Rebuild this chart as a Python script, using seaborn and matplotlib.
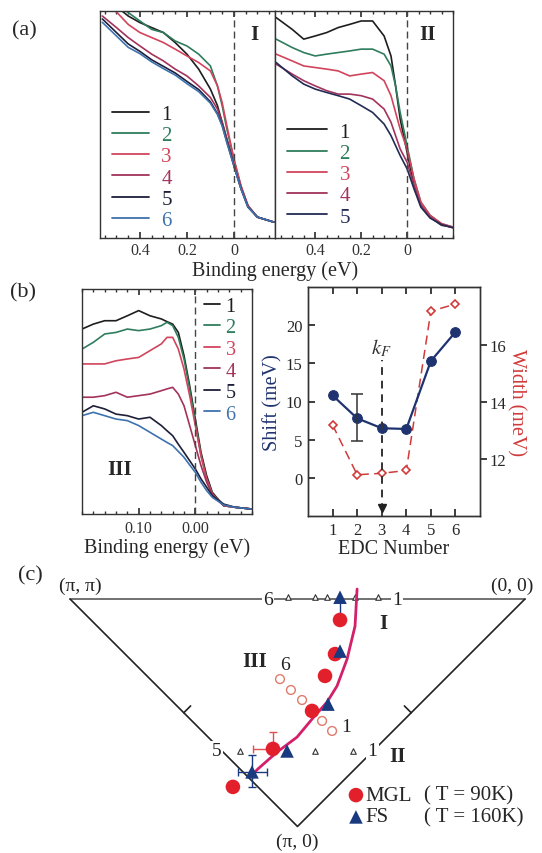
import numpy as np
import pandas as pd
import matplotlib
matplotlib.use("Agg")
import matplotlib.pyplot as plt
from matplotlib.lines import Line2D
from matplotlib.ticker import MultipleLocator, FixedLocator
import seaborn as sns

sns.set_theme(style="ticks")
plt.rcParams['font.family'] = ['Liberation Serif', 'DejaVu Serif']
plt.rcParams['mathtext.fontset'] = 'stix'

# ---------------- data: panel (a) cut I ----------------
E_I = [0.56, 0.50, 0.45, 0.40, 0.35, 0.30, 0.25, 0.20, 0.15, 0.10, 0.07, 0.05, 0.03, 0.0, -0.03, -0.06, -0.10, -0.17]
I_1 = [1.10, 1.02, 0.978, 0.949, 0.927, 0.905, 0.861, 0.810, 0.744, 0.656, 0.583, 0.510, 0.436, 0.334, 0.225, 0.140, 0.092, 0.070]
I_2 = [1.08, 1.03, 0.993, 0.956, 0.919, 0.905, 0.868, 0.846, 0.810, 0.758, 0.670, 0.583, 0.480, 0.348, 0.228, 0.142, 0.092, 0.070]
I_3 = [1.03, 0.996, 0.941, 0.905, 0.883, 0.861, 0.832, 0.802, 0.773, 0.736, 0.670, 0.597, 0.495, 0.348, 0.231, 0.143, 0.092, 0.070]
I_4 = [0.978, 0.927, 0.883, 0.846, 0.810, 0.780, 0.744, 0.714, 0.670, 0.619, 0.568, 0.510, 0.436, 0.319, 0.220, 0.138, 0.092, 0.070]
I_5 = [0.965, 0.905, 0.855, 0.822, 0.785, 0.756, 0.727, 0.690, 0.654, 0.600, 0.548, 0.497, 0.424, 0.319, 0.217, 0.136, 0.092, 0.070]
I_6 = [0.950, 0.890, 0.840, 0.812, 0.776, 0.746, 0.718, 0.680, 0.645, 0.594, 0.544, 0.494, 0.420, 0.319, 0.217, 0.136, 0.092, 0.070]

# ---------------- data: panel (a) cut II ----------------
E_II = [0.57, 0.50, 0.45, 0.40, 0.35, 0.30, 0.25, 0.20, 0.15, 0.10, 0.07, 0.05, 0.03, 0.0, -0.03, -0.06, -0.10, -0.15, -0.20]
II_1 = [0.971, 0.919, 0.876, 0.890, 0.905, 0.927, 0.941, 0.956, 0.956, 0.890, 0.802, 0.670, 0.524, 0.378, 0.231, 0.143, 0.092, 0.056, 0.048]
II_2 = [0.876, 0.839, 0.817, 0.802, 0.810, 0.817, 0.824, 0.832, 0.832, 0.810, 0.758, 0.670, 0.553, 0.407, 0.261, 0.158, 0.100, 0.063, 0.048]
II_3 = [0.810, 0.780, 0.758, 0.751, 0.744, 0.736, 0.714, 0.722, 0.729, 0.693, 0.627, 0.553, 0.480, 0.392, 0.261, 0.158, 0.100, 0.063, 0.048]
II_4 = [0.766, 0.722, 0.693, 0.670, 0.649, 0.634, 0.634, 0.627, 0.612, 0.568, 0.510, 0.451, 0.392, 0.334, 0.231, 0.143, 0.092, 0.059, 0.045]
II_5 = [0.773, 0.714, 0.678, 0.656, 0.641, 0.627, 0.612, 0.583, 0.553, 0.502, 0.451, 0.407, 0.363, 0.305, 0.217, 0.136, 0.088, 0.059, 0.045]

# ---------------- data: panel (b) cut III ----------------
E_III = [0.20, 0.18, 0.16, 0.14, 0.12, 0.10, 0.08, 0.06, 0.05, 0.04, 0.03, 0.02, 0.01, 0.0, -0.01, -0.02, -0.03, -0.05, -0.07, -0.10]
III_1 = [0.822, 0.844, 0.859, 0.859, 0.881, 0.904, 0.881, 0.867, 0.855, 0.844, 0.807, 0.704, 0.570, 0.422, 0.274, 0.170, 0.096, 0.037, 0.030, 0.022]
III_2 = [0.733, 0.763, 0.800, 0.807, 0.822, 0.815, 0.822, 0.837, 0.852, 0.837, 0.785, 0.689, 0.556, 0.407, 0.259, 0.156, 0.089, 0.037, 0.030, 0.022]
III_3 = [0.667, 0.667, 0.667, 0.681, 0.689, 0.696, 0.726, 0.756, 0.785, 0.785, 0.733, 0.644, 0.526, 0.393, 0.259, 0.156, 0.089, 0.037, 0.030, 0.022]
III_4 = [0.519, 0.519, 0.526, 0.541, 0.519, 0.526, 0.533, 0.548, 0.556, 0.563, 0.533, 0.481, 0.393, 0.304, 0.215, 0.141, 0.085, 0.037, 0.030, 0.022]
III_5 = [0.452, 0.481, 0.467, 0.444, 0.437, 0.422, 0.430, 0.393, 0.370, 0.348, 0.310, 0.274, 0.237, 0.200, 0.156, 0.119, 0.081, 0.044, 0.030, 0.022]
III_6 = [0.437, 0.452, 0.437, 0.422, 0.415, 0.393, 0.363, 0.333, 0.318, 0.304, 0.278, 0.252, 0.218, 0.185, 0.141, 0.104, 0.074, 0.040, 0.030, 0.022]

# ---------------- data: panel (b) shift / width ----------------
edc_number = [1, 2, 3, 4, 5, 6]
shift_mev = [10.8, 7.8, 6.5, 6.4, 15.3, 19.1]
width_mev = [13.2, 11.45, 11.5, 11.6, 17.2, 17.45]
shift_err_edc = 2
shift_err_lo, shift_err_hi = 3.0, 3.2
kF_edc = 3

# ---------------- data: panel (c) (rotated zone coords, units of pi) ----------------
bz_u = [0.0, 2.0, 1.0, 0.0]
bz_v = [0.0, 0.0, -1.0, 0.0]
mgl_u = [1.187, 1.165, 1.121, 1.064, 0.892, 0.716]
mgl_v = [-0.092, -0.242, -0.338, -0.492, -0.659, -0.826]
fs_u = [1.187, 1.187, 1.134, 0.954, 0.800]
fs_v = [0.008, -0.229, -0.462, -0.668, -0.760]
cutI_u = [0.958, 1.077, 1.130, 1.187, 1.253, 1.354]
cutI_v = [0.010, 0.010, 0.010, 0.010, 0.010, 0.010]
cutII_u = [0.747, 0.892, 0.954, 1.077, 1.244]
cutII_v = [-0.668, -0.668, -0.668, -0.668, -0.668]
cutIII_u = [0.923, 0.971, 1.020, 1.064, 1.108, 1.152]
cutIII_v = [-0.352, -0.400, -0.444, -0.488, -0.536, -0.580]
fsfit_u = [1.262, 1.253, 1.218, 1.174, 1.130, 1.068, 0.998, 0.910, 0.826, 0.791]
fsfit_v = [0.044, -0.119, -0.264, -0.382, -0.453, -0.523, -0.607, -0.673, -0.747, -0.782]

labels6 = ['1', '2', '3', '4', '5', '6']
colors6 = ['#1e1e1e', '#2f7d5d', '#d2445c', '#a3335c', '#1d1f38', '#3e72ae']
colors5_II = ['#1e1e1e', '#2f7d5d', '#d2445c', '#a3335c', '#222b55']

W, H = 542, 854
fig = plt.figure(figsize=(W / 100, H / 100), dpi=100)
fig.patch.set_facecolor('white')


def fa(x0, y0, x1, y1):
    return [x0 / W, 1 - y1 / H, (x1 - x0) / W, (y1 - y0) / H]


def edc_panel(ax, E, curves, colors, labels, lw=1.2):
    df = pd.DataFrame({
        'E': np.tile(E, len(curves)),
        'I': np.concatenate([np.asarray(c, float) for c in curves]),
        'edc': np.repeat(labels, len(E)),
    })
    sns.lineplot(data=df, x='E', y='I', hue='edc', hue_order=labels,
                 palette=dict(zip(labels, colors)), ax=ax, legend=False,
                 lw=lw, estimator=None)
    ax.set_xlabel('')
    ax.set_ylabel('')
    ax.set_yticks([])
    ax.set_ylim(0, 1)
    ax.axvline(0, color='#444444', lw=1.0, dashes=(5, 3))
    for s in ax.spines.values():
        s.set_color('#333333')
        s.set_linewidth(1.0)


def color_legend(ax, colors, labels, anchor, loc, fs, hl, sp, tp):
    handles = [Line2D([], [], color=c, lw=1.3) for c in colors]
    leg = ax.legend(handles, labels, loc=loc, bbox_to_anchor=anchor, frameon=False,
                    fontsize=fs, handlelength=hl, labelspacing=sp, handletextpad=tp,
                    borderpad=0, borderaxespad=0)
    for t, c in zip(leg.get_texts(), colors):
        t.set_color(c)


# ---------------- (a) I ----------------
axI = fig.add_axes(fa(100, 12, 275, 239))
edc_panel(axI, E_I, [I_1, I_2, I_3, I_4, I_5, I_6], colors6, labels6)
axI.set_xlim(0.57, -0.175)
axI.xaxis.set_major_locator(FixedLocator([0.4, 0.2, 0.0]))
axI.set_xticklabels(['0.4', '0.2', '0'])
axI.xaxis.set_minor_locator(MultipleLocator(0.05))
axI.tick_params(axis='x', which='both', direction='in', top=True, bottom=True, labelsize=11.5, pad=3, colors='#333333')
axI.tick_params(axis='x', which='major', length=4)
axI.tick_params(axis='x', which='minor', length=2.5)
axI.text(0.88, 0.9, 'I', transform=axI.transAxes, fontsize=15, fontweight='bold', ha='center', va='center')
color_legend(axI, colors6, labels6, (0.07, 0.035), 'lower left', 15, 1.75, 0.08, 0.6)

# ---------------- (a) II ----------------
axII = fig.add_axes(fa(275, 12, 453, 239))
edc_panel(axII, E_II, [II_1, II_2, II_3, II_4, II_5], colors5_II, labels6[:5])
axII.set_xlim(0.575, -0.2)
axII.xaxis.set_major_locator(FixedLocator([0.4, 0.2, 0.0]))
axII.set_xticklabels(['0.4', '0.2', '0'])
axII.xaxis.set_minor_locator(MultipleLocator(0.05))
axII.tick_params(axis='x', which='both', direction='in', top=True, bottom=True, labelsize=11.5, pad=3, colors='#333333')
axII.tick_params(axis='x', which='major', length=4)
axII.tick_params(axis='x', which='minor', length=2.5)
axII.text(0.855, 0.9, 'II', transform=axII.transAxes, fontsize=15, fontweight='bold', ha='center', va='center')
color_legend(axII, colors5_II, labels6[:5], (0.07, 0.05), 'lower left', 15, 1.9, 0.08, 0.6)

fig.text(275 / W, 1 - 271 / H, 'Binding energy (eV)', ha='center', va='center', fontsize=14.5)
fig.text(12 / W, 1 - 31 / H, '(a)', ha='left', va='center', fontsize=16)
fig.text(10 / W, 1 - 293 / H, '(b)', ha='left', va='center', fontsize=16)
fig.text(18 / W, 1 - 576 / H, '(c)', ha='left', va='center', fontsize=16)

# ---------------- (b) III ----------------
axIII = fig.add_axes(fa(82, 290, 252, 515))
edc_panel(axIII, E_III, [III_1, III_2, III_3, III_4, III_5, III_6], colors6, labels6)
axIII.set_xlim(0.2, -0.1)
axIII.xaxis.set_major_locator(FixedLocator([0.1, 0.0]))
axIII.set_xticklabels(['0.10', '0.00'])
axIII.xaxis.set_minor_locator(MultipleLocator(0.02))
axIII.tick_params(axis='x', which='both', direction='in', top=True, bottom=True, labelsize=11.5, pad=4, colors='#333333')
axIII.tick_params(axis='x', which='major', length=4)
axIII.tick_params(axis='x', which='minor', length=2.5)
axIII.set_xlabel('Binding energy (eV)', fontsize=14.5, labelpad=1)
axIII.text(0.15, 0.2, 'III', transform=axIII.transAxes, fontsize=15, fontweight='bold', ha='left', va='center')
color_legend(axIII, colors6, labels6, (0.72, 0.965), 'upper left', 14.5, 0.75, 0.12, 0.3)

# ---------------- (b) shift / width ----------------
navy = '#1f3370'
red = '#d03a3a'
axS = fig.add_axes(fa(308, 288, 480, 517))
axW = axS.twinx()
sns.lineplot(x=edc_number, y=width_mev, ax=axW, color=red, lw=1.1, dashes=(6, 3.5),
             marker='D', markersize=4.5, markerfacecolor='white', markeredgecolor=red,
             markeredgewidth=1.2)
sns.lineplot(x=edc_number, y=shift_mev, ax=axS, color=navy, lw=1.6, marker='o',
             markersize=7, markeredgecolor=navy)
i = edc_number.index(shift_err_edc)
axS.errorbar([edc_number[i]], [shift_mev[i]], yerr=[[shift_err_lo], [shift_err_hi]],
             fmt='none', ecolor='#333333', elinewidth=1.1, capsize=4, capthick=1.1)
axS.set_zorder(axW.get_zorder() + 1)
axS.patch.set_visible(False)
axS.set_xlim(0.0, 7.0)
axS.set_ylim(-5, 25)
axW.set_ylim(10, 18.05)
axS.set_xticks(edc_number)
axS.set_yticks([0, 5, 10, 15, 20])
axW.set_yticks([12, 14, 16])
axS.tick_params(axis='x', direction='in', top=True, bottom=True, labelsize=12, length=5, pad=4)
axS.tick_params(axis='y', direction='in', left=True, labelsize=12, length=5, pad=4)
axW.tick_params(axis='y', direction='out', right=True, labelsize=12, length=5, pad=2)
axS.set_xlabel('EDC Number', fontsize=14.5, labelpad=1)
axS.set_ylabel('Shift (meV)', fontsize=14.5, color=navy, labelpad=2)
axW.set_ylabel('Width (meV)', fontsize=14.5, color=red, rotation=270, labelpad=14)
for a in (axS, axW):
    for s in a.spines.values():
        s.set_color('#333333')
        s.set_linewidth(1.0)
axS.vlines(kF_edc, -4.4, 15.5, colors='#333333', linestyles=(0, (4, 3)), lw=1.4)
axS.plot([kF_edc], [-3.9], marker='v', color='#222222', ms=6)
axS.text(kF_edc, 17.1, r'$k_F$', fontsize=15, ha='center', va='center', color='#333333')

# ---------------- (c) Brillouin zone ----------------
axC = fig.add_axes([0, 4 / H, 1, 285 / H])
axC.set_xlim(-0.308, 2.075)
axC.set_ylim(-1.099, 0.154)
axC.axis('off')
axC.plot(bz_u[:2], bz_v[:2], color='#666666', lw=1.3, zorder=1)
axC.plot(bz_u[1:], bz_v[1:], color='#222222', lw=1.2, zorder=1)
# tick marks at mid-points of the diagonals
for (mu, mv, du, dv) in [(0.5, -0.5, 0.03, 0.03), (1.5, -0.5, -0.03, 0.03)]:
    axC.plot([mu, mu + du], [mv, mv + dv], color='#222222', lw=1.2)

axC.plot(fsfit_u, fsfit_v, color='#d4206a', lw=2.0, zorder=3, solid_capstyle='round')

sns.scatterplot(x=cutIII_u, y=cutIII_v, ax=axC, marker='o', s=40, facecolor='none',
                edgecolor='#e07a6a', linewidth=1.0, zorder=2)
sns.scatterplot(x=cutI_u, y=cutI_v, ax=axC, marker='^', s=16, facecolor='white',
                edgecolor='#333333', linewidth=0.8, zorder=2)
sns.scatterplot(x=cutII_u, y=cutII_v, ax=axC, marker='^', s=16, facecolor='white',
                edgecolor='#333333', linewidth=0.8, zorder=2)

# error bars
axC.errorbar([mgl_u[4]], [mgl_v[4]], xerr=[[0.088], [0.0]], yerr=[[0.0], [0.075]],
             fmt='none', ecolor='#e05050', elinewidth=1.0, capsize=3, zorder=3)
axC.errorbar([fs_u[4]], [fs_v[4]], xerr=[[0.062], [0.066]], yerr=[[0.066], [0.075]],
             fmt='none', ecolor='#1a3a80', elinewidth=1.0, capsize=3, zorder=3)
axC.errorbar([fs_u[0]], [fs_v[0]], yerr=[[0.075], [0.0]],
             fmt='none', ecolor='#1a3a80', elinewidth=1.0, capsize=0, zorder=3)

sns.scatterplot(x=mgl_u, y=mgl_v, ax=axC, marker='o', s=110, color='#e2202c',
                edgecolor='none', zorder=4)
sns.scatterplot(x=fs_u, y=fs_v, ax=axC, marker='^', s=95, color='#1a3a80',
                edgecolor='none', zorder=5)

tk = dict(fontsize=14, ha='center', va='center', color='#222222')
wb = dict(facecolor='white', edgecolor='none', pad=1.0)
axC.text(0.044, 0.058, '(\u03c0, \u03c0)', **tk)
axC.text(1.943, 0.058, '(0, 0)', **tk)
axC.text(1.0, -1.064, '(\u03c0, 0)', **tk)
axC.text(0.87, 0.0, '6', bbox=wb, **tk)
axC.text(1.437, 0.0, '1', bbox=wb, **tk)
axC.text(0.646, -0.668, '5', bbox=wb, **tk)
axC.text(1.33, -0.668, '1', bbox=wb, **tk)
axC.text(0.945, -0.29, '6', **tk)
axC.text(1.212, -0.56, '1', **tk)
axC.text(1.376, -0.105, 'I', fontsize=15, fontweight='bold', ha='center', va='center')
axC.text(1.44, -0.69, 'II', fontsize=15, fontweight='bold', ha='center', va='center')
axC.text(0.813, -0.273, 'III', fontsize=15, fontweight='bold', ha='center', va='center')

# legend of panel (c)
axC.scatter([1.257], [-0.862], marker='o', s=110, color='#e2202c', edgecolor='none')
axC.scatter([1.257], [-0.958], marker='^', s=95, color='#1a3a80', edgecolor='none')
axC.text(1.300, -0.862, 'MGL', fontsize=15, ha='left', va='center')
axC.text(1.300, -0.958, 'FS', fontsize=15, ha='left', va='center')
axC.text(1.555, -0.862, '( T = 90K)', fontsize=15, ha='left', va='center')
axC.text(1.555, -0.958, '( T = 160K)', fontsize=15, ha='left', va='center')

fig.savefig('out.png', dpi=100, facecolor='white')
